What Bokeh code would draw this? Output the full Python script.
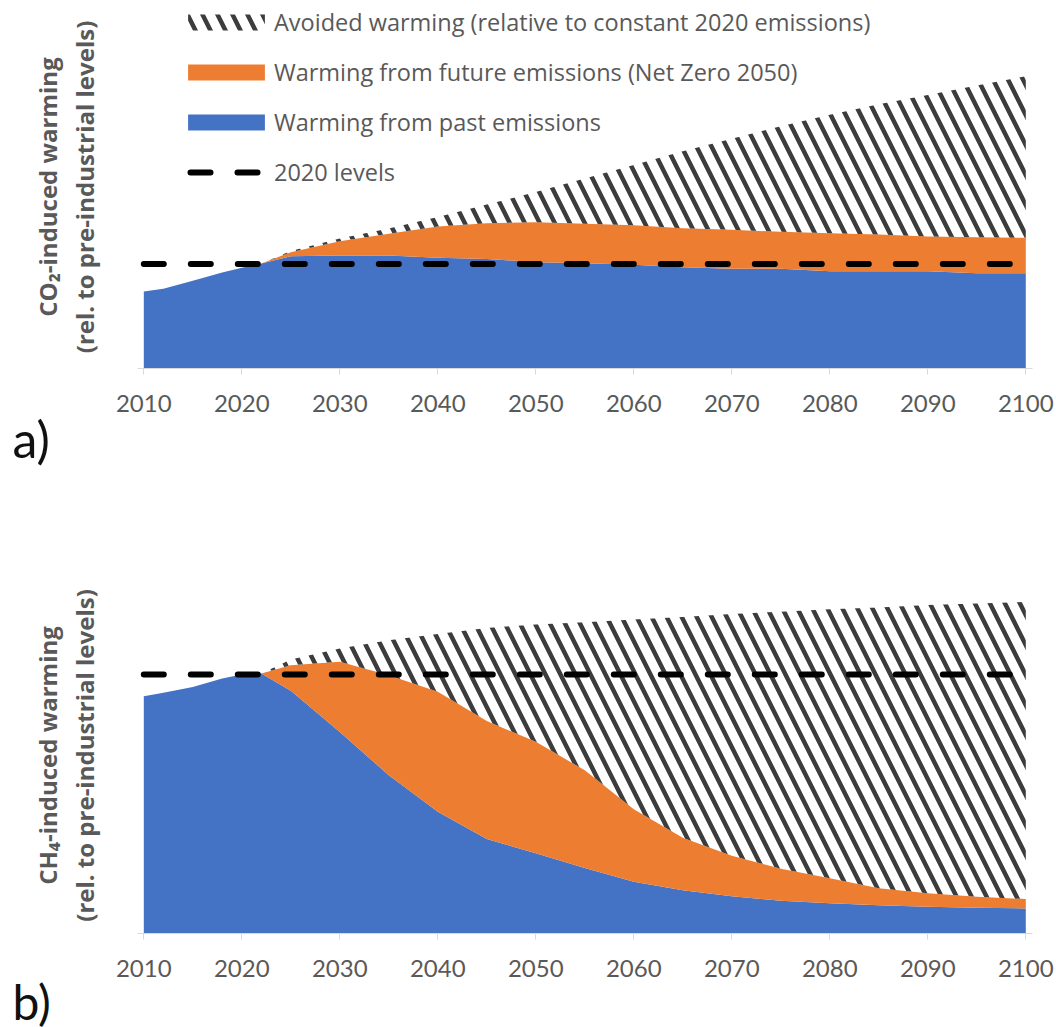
import numpy as np

from bokeh.plotting import figure
from bokeh.layouts import column
from bokeh.models import Legend, LegendItem, Range1d, Title
from bokeh.embed import file_html
from bokeh.resources import INLINE

# ---------------------------------------------------------------------------
# Data (warming in units of the 2020 level, so the 2020 level is 1.0)
# ---------------------------------------------------------------------------
years = [2010, 2012, 2015, 2018, 2020, 2022, 2025, 2030, 2035, 2040, 2045,
         2050, 2055, 2060, 2065, 2070, 2075, 2080, 2085, 2090, 2095, 2100]

# CO2-induced warming
co2_past = [0.738, 0.763, 0.84, 0.92, 0.964, 1.006, 1.076, 1.082, 1.082, 1.06, 1.05,
            1.018, 1.009, 0.993, 0.97, 0.955, 0.955, 0.932, 0.932, 0.932, 0.913, 0.913]
co2_net_zero = [0.738, 0.763, 0.84, 0.92, 0.964, 1.006, 1.114, 1.22, 1.29, 1.36, 1.392,
                1.40, 1.386, 1.373, 1.344, 1.328, 1.309, 1.296, 1.284, 1.264, 1.258, 1.252]
co2_constant = [0.738, 0.763, 0.84, 0.92, 0.964, 1.006, 1.125, 1.245, 1.34, 1.45, 1.57,
                1.69, 1.82, 1.95, 2.08, 2.20, 2.32, 2.43, 2.53, 2.62, 2.71, 2.80]
co2_2020_level = 1.0

# CH4-induced warming
ch4_past = [0.916, 0.93, 0.952, 0.985, 1.0, 1.004, 0.937, 0.778, 0.611, 0.47, 0.365,
            0.31, 0.253, 0.20, 0.167, 0.144, 0.126, 0.117, 0.109, 0.103, 0.099, 0.097]
ch4_net_zero = [0.916, 0.93, 0.952, 0.985, 1.0, 1.004, 1.036, 1.049, 0.997, 0.933, 0.82,
                0.74, 0.63, 0.48, 0.37, 0.30, 0.25, 0.213, 0.175, 0.155, 0.142, 0.133]
ch4_constant = [0.916, 0.93, 0.952, 0.985, 1.0, 1.004, 1.058, 1.10, 1.132, 1.156, 1.18,
                1.193, 1.202, 1.212, 1.222, 1.234, 1.242, 1.252, 1.259, 1.268, 1.274, 1.28]
ch4_2020_level = 1.0

tick_years = list(range(2010, 2101, 10))

legend_labels = [
    "Avoided warming (relative to constant 2020 emissions)",
    "Warming from future emissions (Net Zero 2050)",
    "Warming from past emissions",
    "2020 levels",
]

# ---------------------------------------------------------------------------
# Styling
# ---------------------------------------------------------------------------
BLUE = "#4472C4"
ORANGE = "#ED7D31"
HATCH = "#3c3c3c"
TEXT = "#595959"
AXIS = "#d9d9d9"
FONT = "Lato"
WIDE_FONT = "Open Sans"

W = 1056
LEFT, RIGHT = 137, 24                 # borders around the plotting frame
PX_PER_YEAR = 9.8
X0 = 2010 - 6.3 / PX_PER_YEAR
X1 = X0 + (W - LEFT - RIGHT) / PX_PER_YEAR

DASH = dict(line_color="black", line_width=6, line_dash="20 27", line_cap="round")


def panel(past, net_zero, constant, level, ylabel, tag, tag_size, tag_standoff,
          height, top, frame_h, px_per_unit, legend=False):
    p = figure(width=W, height=height, title=None,
               output_backend="svg", toolbar_location=None,
               x_range=Range1d(X0, X1),
               y_range=Range1d(0, frame_h / px_per_unit),
               min_border_left=LEFT, min_border_right=RIGHT,
               min_border_top=top, min_border_bottom=height - top - frame_h)
    p.outline_line_color = None
    p.grid.visible = False

    x = np.array(years, dtype=float)
    past = np.array(past)
    net_zero = np.array(net_zero)
    constant = np.array(constant)

    r_past = p.varea(x=x, y1=0, y2=past, fill_color=BLUE)
    r_future = p.varea(x=x, y1=past, y2=net_zero, fill_color=ORANGE)
    r_avoided = p.varea(x=x, y1=net_zero, y2=constant, fill_alpha=0,
                        hatch_pattern="\\", hatch_color=HATCH,
                        hatch_scale=30, hatch_weight=4.5)
    level_x = [years[0], years[-1]]
    p.line(x=level_x, y=[level, level], **DASH)

    # x axis: light grey line with outward ticks
    ax = p.xaxis[0]
    ax.ticker = tick_years
    ax.axis_line_color = AXIS
    ax.major_tick_line_color = AXIS
    ax.minor_tick_line_color = None
    ax.major_tick_in = 0
    ax.major_tick_out = 6
    ax.major_label_standoff = 20
    ax.major_label_text_font = FONT
    ax.major_label_text_font_size = "24px"
    ax.major_label_text_color = TEXT

    # y axis: no line, no ticks, only the two-line title
    ay = p.yaxis[0]
    ay.ticker = []
    ay.axis_line_color = None
    ay.major_tick_line_color = None
    ay.minor_tick_line_color = None
    ay.axis_label = "\n".join(ylabel)
    ay.axis_label_standoff = 37
    ay.axis_label_text_font = WIDE_FONT
    ay.axis_label_text_font_style = "bold"
    ay.axis_label_text_font_size = "24px"
    ay.axis_label_text_color = TEXT
    ay.axis_label_text_line_height = 1.1

    # panel tag under the axis, at the left edge of the page
    p.add_layout(Title(text=tag, align="left", offset=12 - LEFT,
                       standoff=tag_standoff, vertical_align="top",
                       text_font=FONT, text_font_size=tag_size,
                       text_font_style="normal", text_color="#111111"), "below")

    if legend:
        # legend swatch for the level line, phased to show two dashes
        level_key = p.line(x=level_x, y=[level, level], line_dash_offset=35,
                           visible=False, **DASH)
        items = [LegendItem(label=legend_labels[0], renderers=[r_avoided]),
                 LegendItem(label=legend_labels[1], renderers=[r_future]),
                 LegendItem(label=legend_labels[2], renderers=[r_past]),
                 LegendItem(label=legend_labels[3], renderers=[level_key])]
        leg = Legend(items=items, location=(41, 180),
                     glyph_width=96, glyph_height=20, label_height=32,
                     spacing=18, padding=0, margin=0, label_standoff=0,
                     border_line_alpha=0, background_fill_alpha=0,
                     label_text_font=WIDE_FONT, label_text_font_size="23.5px",
                     label_text_color=TEXT)
        p.add_layout(leg)
    return p


top_panel = panel(co2_past, co2_net_zero, co2_constant, co2_2020_level,
                  ("CO\u2082-induced warming", "(rel. to pre-industrial levels)"),
                  "a)", "50px", -11, height=500, top=5, frame_h=363,
                  px_per_unit=104.4, legend=True)
bottom_panel = panel(ch4_past, ch4_net_zero, ch4_constant, ch4_2020_level,
                     ("CH\u2084-induced warming", "(rel. to pre-industrial levels)"),
                     "b)", "48px", -13, height=527, top=77, frame_h=356,
                     px_per_unit=259)

layout = column(top_panel, bottom_panel, spacing=0)
open("out.html", "w").write(file_html(layout, INLINE))
